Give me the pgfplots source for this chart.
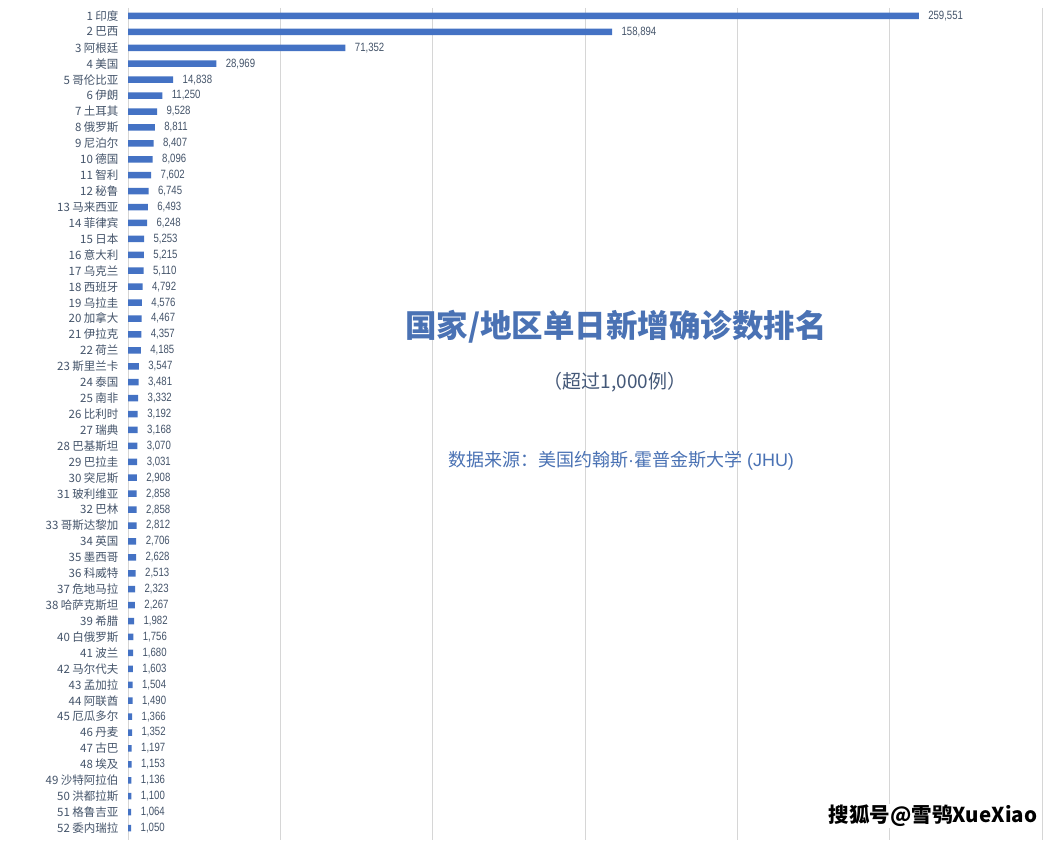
\documentclass[border=0pt]{standalone}
\usepackage{fontspec}
\setmainfont{Noto Sans CJK SC}
\newfontfamily\narrow[FakeStretch=0.80]{Liberation Sans}
\newfontfamily\arial{Liberation Sans}
\usepackage{pgfplots}
\usepackage{pgfplotstable}
\pgfplotsset{compat=1.18}
\definecolor{barblue}{HTML}{4472C4}
\definecolor{labgray}{HTML}{44546A}
\definecolor{titleblue}{HTML}{4A72B4}
\pgfplotstableread{
y x
1 259551
2 158894
3 71352
4 28969
5 14838
6 11250
7 9528
8 8811
9 8407
10 8096
11 7602
12 6745
13 6493
14 6248
15 5253
16 5215
17 5110
18 4792
19 4576
20 4467
21 4357
22 4185
23 3547
24 3481
25 3332
26 3192
27 3168
28 3070
29 3031
30 2908
31 2858
32 2858
33 2812
34 2706
35 2628
36 2513
37 2323
38 2267
39 1982
40 1756
41 1680
42 1603
43 1504
44 1490
45 1366
46 1352
47 1197
48 1153
49 1136
50 1100
51 1064
52 1050
}\data
\begin{document}
\begin{tikzpicture}[x=1pt,y=1pt]
\path[use as bounding box,fill=white] (0,0) rectangle (1062,840);
\begin{axis}[
  at={(128pt,0pt)}, anchor=south west,
  scale only axis, width=914pt, height=832pt,
  xbar, bar width=6.5pt,
  xmin=0, xmax=300000,
  ymin=0.5, ymax=52.75, y dir=reverse,
  axis line style={draw=none},
  xtick={0,50000,...,300000}, xticklabels={}, scaled x ticks=false,
  xmajorgrids, grid style={draw=black!16, line width=0.6pt},
  major tick length=0pt,
  ytick={1,...,52},
  yticklabels={1 印度, 2 巴西, 3 阿根廷, 4 美国, 5 哥伦比亚, 6 伊朗, 7 土耳其, 8 俄罗斯, 9 尼泊尔, 10 德国, 11 智利, 12 秘鲁, 13 马来西亚, 14 菲律宾, 15 日本, 16 意大利, 17 乌克兰, 18 西班牙, 19 乌拉圭, 20 加拿大, 21 伊拉克, 22 荷兰, 23 斯里兰卡, 24 泰国, 25 南非, 26 比利时, 27 瑞典, 28 巴基斯坦, 29 巴拉圭, 30 突尼斯, 31 玻利维亚, 32 巴林, 33 哥斯达黎加, 34 英国, 35 墨西哥, 36 科威特, 37 危地马拉, 38 哈萨克斯坦, 39 希腊, 40 白俄罗斯, 41 波兰, 42 马尔代夫, 43 孟加拉, 44 阿联酋, 45 厄瓜多尔, 46 丹麦, 47 古巴, 48 埃及, 49 沙特阿拉伯, 50 洪都拉斯, 51 格鲁吉亚, 52 委内瑞拉},
  yticklabel style={font=\fontsize{11.5}{12}\selectfont, text=labgray, xshift=-6pt},
  nodes near coords={\pgfmathprintnumber[fixed,precision=0,1000 sep={,}]{\pgfplotspointmeta}},
  point meta=x,
  /pgf/number format/assume math mode=true,
  every node near coord/.append style={font=\narrow\fontsize{12}{12}\selectfont, text=labgray, anchor=west, xshift=6pt},
  clip=false,
]
\addplot[fill=barblue, draw=none] table[x=x,y=y] {\data};
\end{axis}
\node[font=\bfseries\fontsize{31.5}{32}\selectfont, text=titleblue] at (616,513) {国家/地区单日新增确诊数排名};
\node[font=\fontsize{19}{20}\selectfont, text=labgray!85!barblue] at (615,458) {（超过1,000例）};
\node[font=\fontsize{18}{19}\selectfont, text=titleblue] at (621,379) {数据来源：美国约翰斯{\arial ·}霍普金斯大学{\arial\ (JHU)}};
\node[font=\bfseries\fontsize{20.5}{21}\selectfont, text=black, fill=white, inner sep=1pt] at (933,24) {搜狐号@雪鸮XueXiao};
\end{tikzpicture}
\end{document}
